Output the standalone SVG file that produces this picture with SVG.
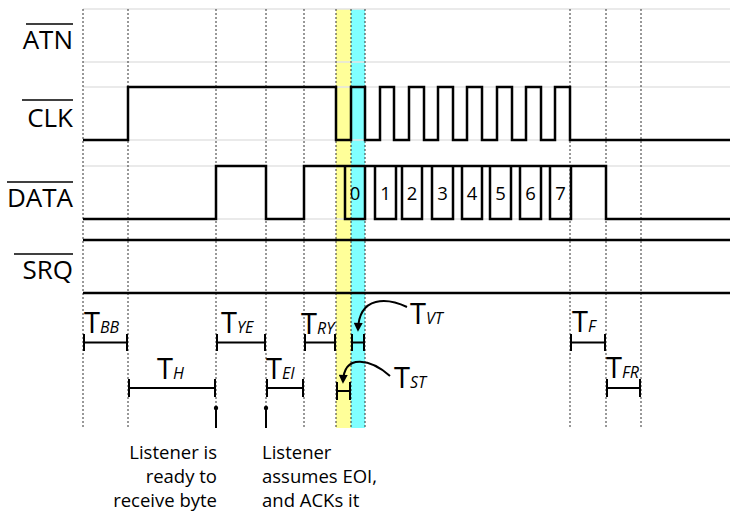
<svg xmlns="http://www.w3.org/2000/svg" width="730" height="517" viewBox="0 0 730 517">
<style>
text{font-family:"Open Sans","Liberation Sans",sans-serif;fill:#000}
.sig{font-size:26px;text-anchor:end}
.grid{stroke:#e3e3e3;stroke-width:1.5;fill:none}
.dot{stroke:#333;stroke-width:1;stroke-dasharray:2,2;fill:none}
.wave{stroke:#000;stroke-width:2.5;fill:none;stroke-linejoin:miter}
.ovl{stroke:#000;stroke-width:1.6}
.br{stroke:#000;stroke-width:2;fill:none}
.T{font-size:29px}
.sub{font-size:16px;font-style:italic}
.bit{font-size:18.5px;text-anchor:middle}
.note{font-size:18.5px}
.arr{stroke:#000;stroke-width:2;fill:none;marker-end:url(#ah)}
</style>
<defs>
<marker id="ah" viewBox="0 0 10 10" refX="8" refY="5" markerWidth="5" markerHeight="4.5" orient="auto" markerUnits="strokeWidth">
<path d="M0,0 L10,5 L0,10 z" fill="#000"/>
</marker>
</defs>
<rect width="730" height="517" fill="#fff"/>
<g id="bands">
<rect x="336" y="9" width="15" height="419" fill="#ffff99"/>
<rect x="351" y="9" width="14" height="419" fill="#80ffff"/>
</g>
<g id="gridlines">
<path class="grid" d="M83,9H730M83,62H730M83,87H730M83,140H730M83,166H730M83,219H730"/>
</g>
<g id="dotted">
<path class="dot" d="M83,9V428M128,9V428M216,9V428M266,9V428M304,9V428M336,9V428M351,9V428M365,9V428M570,9V428M606,9V428M641,9V428"/>
</g>
<g id="labels">
<text class="sig" x="73" y="49">ATN</text>
<line class="ovl" x1="26" y1="24" x2="73" y2="24"/>
<text class="sig" x="73" y="127">CLK</text>
<line class="ovl" x1="22" y1="100" x2="73" y2="100"/>
<text class="sig" x="73" y="207">DATA</text>
<line class="ovl" x1="7" y1="182" x2="73" y2="182"/>
<text class="sig" x="73" y="279">SRQ</text>
<line class="ovl" x1="14" y1="254" x2="73" y2="254"/>
</g>
<g id="clk">
<path class="wave" d="M83,140H128V87H336V140H351V87H365V140H380V87H394V140H409V87H424V140H438V87H453V140H467V87H482V140H497V87H512V140H526V87H541V140H555V87H570V140H730"/>
</g>
<g id="data">
<path class="wave" d="M83,219H216V166H266V219H304V166H606V219H730"/>
<path class="wave" d="M345,166V219H365V166M375,166V219H396V166M402,166V219H422V166M432,166V219H453V166M462,166V219H482V166M490,166V219H511V166M520,166V219H541V166M550,166V219H571V166"/>
<text class="bit" x="355" y="200">0</text>
<text class="bit" x="385.5" y="200">1</text>
<text class="bit" x="412" y="200">2</text>
<text class="bit" x="442.5" y="200">3</text>
<text class="bit" x="472" y="200">4</text>
<text class="bit" x="500.5" y="200">5</text>
<text class="bit" x="530.5" y="200">6</text>
<text class="bit" x="560.5" y="200">7</text>
</g>
<g id="srq">
<path class="wave" d="M83,240H730M83,293H730"/>
</g>
<g id="t-bb">
<path class="br" d="M84,334V351M84,342.5H127M127,334V351"/>
<text x="84" y="333"><tspan class="T">T</tspan><tspan class="sub">BB</tspan></text>
</g>
<g id="t-h">
<path class="br" d="M129,379V397M129,388H215M215,379V397"/>
<text x="157" y="379"><tspan class="T">T</tspan><tspan class="sub">H</tspan></text>
</g>
<g id="t-ye">
<path class="br" d="M217,334V351M217,342.5H265M265,334V351"/>
<text x="221" y="333"><tspan class="T">T</tspan><tspan class="sub">YE</tspan></text>
</g>
<g id="t-ei">
<path class="br" d="M267,379V397M267,388H303M303,379V397"/>
<text x="266" y="379"><tspan class="T">T</tspan><tspan class="sub">EI</tspan></text>
</g>
<g id="t-ry">
<path class="br" d="M305,334V351M305,342.5H335M335,334V351"/>
<text x="301" y="334"><tspan class="T">T</tspan><tspan class="sub">RY</tspan></text>
</g>
<g id="t-vt">
<path class="br" d="M352,334V351M352,342.5H364M364,334V351"/>
<path class="arr" d="M407,307C388,298 359,295 358,330"/>
<text x="410" y="324"><tspan class="T">T</tspan><tspan class="sub">VT</tspan></text>
</g>
<g id="t-st">
<path class="br" d="M337,382V400M337,391H350M350,382V400"/>
<path class="arr" d="M390,376C372,360 344,352 343,382"/>
<text x="394" y="388"><tspan class="T">T</tspan><tspan class="sub">ST</tspan></text>
</g>
<g id="t-f">
<path class="br" d="M571,334V351M571,342.5H605M605,334V351"/>
<text x="572" y="332"><tspan class="T">T</tspan><tspan class="sub">F</tspan></text>
</g>
<g id="t-fr">
<path class="br" d="M607,379V397M607,388H640M640,379V397"/>
<text x="606" y="378"><tspan class="T">T</tspan><tspan class="sub">FR</tspan></text>
</g>
<g id="marker-ready">
<circle cx="216" cy="408" r="2.2" fill="#000"/>
<line x1="216" y1="408" x2="216" y2="428" stroke="#000" stroke-width="2"/>
<text class="note" x="217" text-anchor="end"><tspan x="217" y="459">Listener is</tspan><tspan x="217" y="483">ready to</tspan><tspan x="217" y="507">receive byte</tspan></text>
</g>
<g id="marker-eoi">
<circle cx="266" cy="408" r="2.2" fill="#000"/>
<line x1="266" y1="408" x2="266" y2="428" stroke="#000" stroke-width="2"/>
<text class="note" x="262"><tspan x="262" y="459">Listener</tspan><tspan x="262" y="483">assumes EOI,</tspan><tspan x="262" y="507">and ACKs it</tspan></text>
</g>
</svg>
